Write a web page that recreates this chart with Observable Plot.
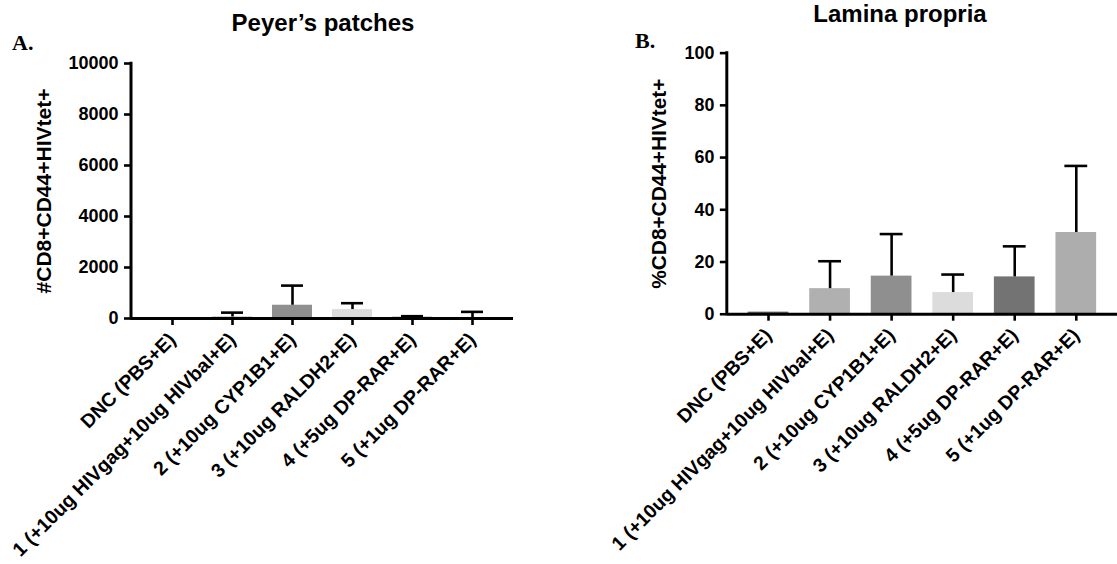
<!DOCTYPE html>
<html>
<head>
<meta charset="utf-8">
<script src="https://cdn.jsdelivr.net/npm/d3@7"></script>
<script src="https://cdn.jsdelivr.net/npm/@observablehq/plot@0.6"></script>
<style>
  html, body { margin: 0; padding: 0; background: #fff; }
  #wrap { position: relative; width: 1117px; height: 564px; overflow: hidden; background: #fff; }
  #left { position: absolute; left: 0; top: 0; }
  #right { position: absolute; left: 560px; top: 0; }
  #overlay { position: absolute; left: 0; top: 0; pointer-events: none; }
  svg { overflow: visible; }
  #left svg text, #right svg text { font-weight: bold; }
</style>
</head>
<body>
<div id="wrap">
  <div id="left"></div>
  <div id="right"></div>
  <svg id="overlay" width="1117" height="564">
    <text x="323" y="31" text-anchor="middle" font-family="Liberation Sans, Arial, sans-serif" font-weight="bold" font-size="24">Peyer’s patches</text>
    <text x="900" y="22" text-anchor="middle" font-family="Liberation Sans, Arial, sans-serif" font-weight="bold" font-size="24">Lamina propria</text>
    <text x="12" y="50" font-family="Liberation Serif, Times New Roman, serif" font-weight="bold" font-size="22">A.</text>
    <text x="635" y="48" font-family="Liberation Serif, Times New Roman, serif" font-weight="bold" font-size="22">B.</text>
  </svg>
</div>
<script>
const categories = [
  "DNC (PBS+E)",
  "1 (+10ug HIVgag+10ug HIVbal+E)",
  "2 (+10ug CYP1B1+E)",
  "3 (+10ug RALDH2+E)",
  "4 (+5ug DP-RAR+E)",
  "5 (+1ug DP-RAR+E)"
];
const barColors = ["#606060", "#b0b0b0", "#8f8f8f", "#dcdcdc", "#737373", "#adadad"];

// Peyer's patches: mean count and top of error bar
const ppMean  = [0, 60, 520, 350, 50, 20];
const ppUpper = [0, 230, 1290, 600, 90, 260];
const ppTicks = [0, 2000, 4000, 6000, 8000, 10000];

// Lamina propria: mean percent and top of error bar
const lpMean  = [0.8, 9.8, 14.6, 8.3, 14.3, 31.3];
const lpUpper = [0.8, 20.3, 30.7, 15.2, 26.0, 56.8];
const lpTicks = [0, 20, 40, 60, 80, 100];

const FONT = "Liberation Sans, Arial, Helvetica, sans-serif";

function makeChart({mean, upper, ticks, yMax, width, marginLeft, marginRight, marginTop, marginBottom, label, labelDx}) {
  const data = categories.map((c, i) => ({cat: c, mean: mean[i], upper: upper[i]}));
  const err = data.filter(d => d.upper > d.mean);
  // y-axis line drawn through the plot's own y scale
  const yAxisLine = (index, scales, values, dims) => {
    const line = document.createElementNS("http://www.w3.org/2000/svg", "line");
    line.setAttribute("x1", dims.marginLeft);
    line.setAttribute("x2", dims.marginLeft);
    line.setAttribute("y1", scales.y(yMax) - 1.3);
    line.setAttribute("y2", scales.y(0) + 1.5);
    line.setAttribute("stroke", "#000");
    line.setAttribute("stroke-width", 3);
    return line;
  };
  return Plot.plot({
    width,
    height: 564,
    marginLeft, marginRight, marginTop, marginBottom,
    style: {fontFamily: FONT, fontWeight: "bold", color: "#000", background: "transparent", overflow: "visible"},
    x: {domain: categories, paddingInner: 0.34, paddingOuter: 0.33, label: null},
    y: {domain: [0, yMax], label: null},
    color: {domain: categories, range: barColors},
    marks: [
      Plot.barY(data, {x: "cat", y: "mean", fill: "cat"}),
      Plot.ruleX(err, {x: "cat", y1: "mean", y2: "upper", stroke: "#000", strokeWidth: 2.6}),
      Plot.tickY(err, {x: "cat", y: "upper", stroke: "#000", strokeWidth: 2.6, inset: 9}),
      Plot.axisY({ticks, tickFormat: d3.format("d"), tickSize: 7, tickPadding: 6, stroke: "#000", strokeWidth: 2.6, fontSize: 18, fontWeight: "bold", label: null}),
      Plot.axisX({tickSize: 7, tickPadding: 11, tickRotate: -45, stroke: "#000", strokeWidth: 2.6, fontSize: 19.5, fontWeight: "bold", label: null}),
      Plot.ruleY([0], {stroke: "#000", strokeWidth: 3}),
      yAxisLine,
      Plot.text([label], {text: d => d, frameAnchor: "left", rotate: -90, dx: labelDx, textAnchor: "middle", fontSize: 21, fontWeight: "bold", fill: "#000"})
    ]
  });
}

document.getElementById("left").appendChild(makeChart({
  mean: ppMean, upper: ppUpper, ticks: ppTicks, yMax: 10000,
  width: 560, marginLeft: 131, marginRight: 47, marginTop: 63, marginBottom: 246,
  label: "#CD8+CD44+HIVtet+", labelDx: -87
}));

document.getElementById("right").appendChild(makeChart({
  mean: lpMean, upper: lpUpper, ticks: lpTicks, yMax: 100,
  width: 561, marginLeft: 168, marginRight: 0, marginTop: 53, marginBottom: 248,
  label: "%CD8+CD44+HIVtet+", labelDx: -68
}));
</script>
</body>
</html>
